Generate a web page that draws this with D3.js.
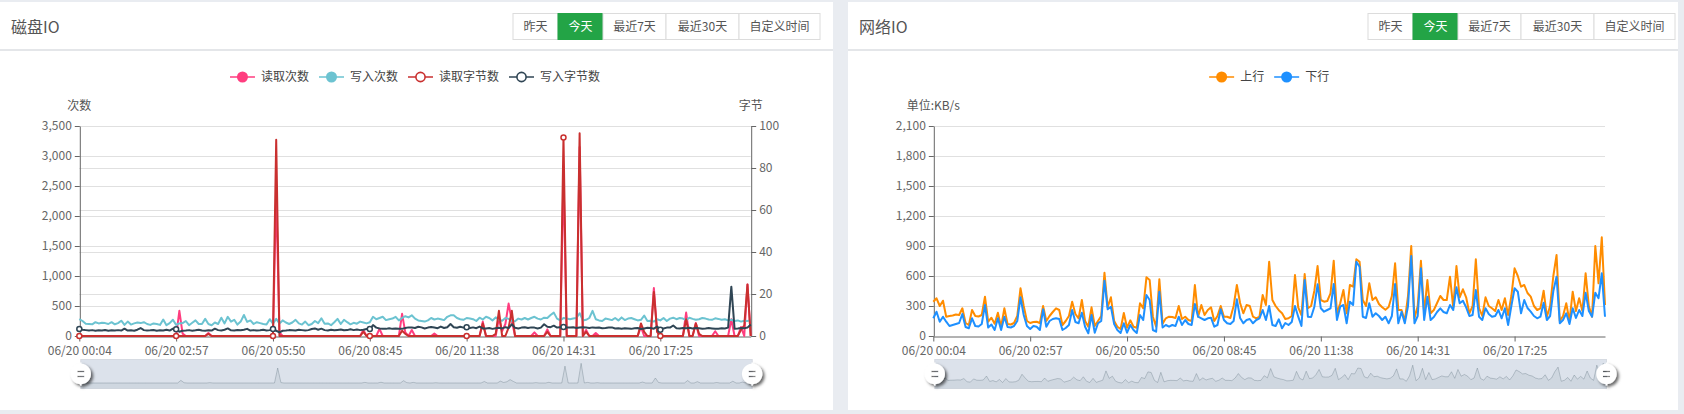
<!DOCTYPE html>
<html><head><meta charset="utf-8">
<script src="https://cdn.jsdelivr.net/npm/d3@7/dist/d3.min.js"></script>
<style>
html,body{margin:0;padding:0;background:#e9ecf1;overflow:hidden;}
svg{display:block;}
text{font-family:"Microsoft YaHei","Noto Sans CJK SC","Noto Sans",sans-serif;}
</style></head><body>
<svg id="c" width="1684" height="414"></svg>
<script>
// ---------- DATA ----------
const tickLabels = ['06/20 00:04','06/20 02:57','06/20 05:50','06/20 08:45','06/20 11:38','06/20 14:31','06/20 17:25'];
const tickStep = 30;
const buttonLabels = ['昨天','今天','最近7天','最近30天','自定义时间'];
const activeButton = 1;
const diskTitle = '磁盘IO';
const netTitle = '网络IO';
const diskSeriesNames = ['读取次数','写入次数','读取字节数','写入字节数'];
const netSeriesNames = ['上行','下行'];
const diskLeftTicks = [0,500,1000,1500,2000,2500,3000,3500];
const diskRightTicks = [0,20,40,60,80,100];
const netTicks = [0,300,600,900,1200,1500,1800,2100];

// 读取次数 (left axis)
const readCount = [
30,0,0,0,0,0,0,0,0,0,
0,0,0,0,0,0,0,0,0,0,
0,0,0,0,0,0,0,0,0,0,
0,420,40,0,0,0,0,0,0,0,
50,0,0,0,0,0,0,0,0,0,
0,0,0,0,0,0,0,0,0,0,
0,2400,60,0,0,0,0,0,0,0,
0,0,0,0,0,0,0,0,0,0,
0,0,0,0,0,0,0,0,100,0,
0,0,0,120,0,0,0,0,0,0,
370,60,0,100,0,0,0,0,0,0,
40,0,0,0,0,0,0,0,0,0,
0,0,0,0,0,240,0,0,0,0,
300,80,200,540,250,0,0,0,0,0,
0,60,0,0,0,110,0,0,0,0,
2700,0,0,0,0,3150,0,100,0,0,
50,0,0,0,0,0,0,0,0,0,
0,0,0,0,150,0,0,0,800,80,
0,0,0,0,0,0,0,0,390,0,
0,215,0,0,0,0,0,80,0,0,
0,0,280,0,0,150,0,860,0];
// 写入次数 (left axis)
const writeCount = [
280,250,205,200,195,230,210,220,215,200,
230,195,215,255,185,240,190,210,225,215,
230,200,185,210,200,185,275,180,215,270,
185,210,215,250,180,220,260,200,200,285,
200,180,225,200,305,210,320,240,270,190,
240,350,235,260,200,230,215,200,190,280,
205,285,210,260,225,200,225,270,210,190,
240,180,200,250,215,295,205,210,180,230,
285,200,270,230,195,220,205,240,225,210,
230,320,280,300,320,265,280,290,320,260,
300,330,310,345,290,260,250,240,260,300,
275,290,280,265,320,345,345,300,280,270,
300,290,280,250,305,275,320,300,260,310,
270,255,300,285,250,245,290,275,300,275,
300,320,290,275,305,300,350,390,290,260,
300,290,280,290,300,380,260,270,300,420,
280,260,250,290,280,265,300,260,310,265,
290,300,280,260,270,340,250,255,240,280,
260,300,250,290,305,280,300,290,265,305,
285,270,280,300,290,275,270,295,285,270,
280,260,270,250,260,240,255,250,265];
// 读取字节数 (right axis)
const readBytes = [
0,0,0,0,0,0,0,0,0,0,
0,0,0,0,0,0,0,0,0,0,
0,0,0,0,0,0,0,0,0,0,
0,0,0,0,0,0,0,0,0,0,
1,0,0,0,0,0,0,0,0,0,
0,0,0,0,0,0,0,0,0,0,
0,93.5,0,0,0,0,0,0,0,0,
0,0,0,0,0,0,0,0,0,0,
0,0,0,0,0,0,0,0,2,0,
0,0,0,0,0,0,0,0,0,0,
2.5,1,0,0,0,0,0,0,0,0,
0,0,0,0,0,0,0,0,0,0,
0,0,0,0,0,6,0,0,0,1,
12,0,0,4,12,0,0,0,0,0,
0,0,0,0,0,2,0,0,0,0,
94.5,0,0,0,0,96.5,0,2,0,0,
0,0,0,0,0,0,0,0,0,0,
0,0,0,0,6,2,0,0,21,2,
0,0,0,0,0,0,0,0,8,0,
0,6,1,0,0,0,0,0,0,0,
0,0,0,0,0,3,5,24.5,0];
// 写入字节数 (right axis)
const writeBytes = [
3.3,3.0,2.8,2.6,2.8,2.5,2.7,2.6,2.9,2.5,
2.7,2.6,2.8,2.6,3.5,2.6,2.7,2.5,3.0,3.8,
2.8,2.6,2.7,2.9,2.5,2.7,2.6,3.0,2.6,3.5,
3.2,2.0,2.5,2.6,2.8,2.5,2.7,3.0,2.6,2.5,
2.7,2.6,3.5,2.8,2.6,3.0,3.6,2.7,2.6,2.9,
2.7,3.0,3.4,2.6,2.8,2.6,2.7,3.0,2.6,2.8,
3.3,2.5,1.7,2.5,2.6,2.8,2.7,2.6,3.0,2.8,
2.6,2.8,3.3,3.6,3.0,3.5,2.8,2.6,3.0,2.7,
2.9,3.1,2.7,2.8,3.2,2.8,3.1,2.8,3.0,3.3,
3.3,5.2,4.0,3.6,3.5,3.4,3.7,3.4,3.6,3.5,
3.4,3.8,4.1,4.0,3.8,4.4,4.1,3.6,4.0,4.3,
4.0,3.7,4.5,3.8,4.2,5.7,4.2,3.9,4.4,4.0,
4.2,3.8,4.1,3.7,4.5,3.6,3.6,3.8,3.4,3.7,
3.9,3.6,4.2,3.8,5.6,3.9,3.6,4.0,4.2,3.8,
4.1,4.0,3.6,4.0,5.6,4.4,4.2,4.9,4.0,4.2,
4.3,4.0,4.1,4.2,3.8,4.0,4.2,4.0,3.8,4.1,
3.9,4.0,3.7,3.8,4.0,4.1,3.6,3.7,3.5,3.7,
3.6,3.4,3.7,3.8,3.3,3.6,3.9,3.8,3.5,4.5,
3.0,3.6,4.0,4.0,5.0,3.7,3.6,3.8,3.7,3.9,
3.6,3.8,3.7,3.5,3.6,3.8,3.6,3.4,3.5,3.7,
3.6,4.0,23.5,3.5,3.6,3.8,3.7,4.0,5.5];
// 上行 KB/s
const upload = [
343,377,300,353,193,200,205,215,210,277,
130,110,260,200,195,210,393,143,183,123,
233,93,277,120,115,130,200,477,300,150,
130,140,143,130,300,150,200,240,277,260,
110,150,200,343,220,177,360,150,93,287,
100,150,200,633,287,387,150,93,70,230,
83,157,93,83,327,277,587,560,193,93,
567,123,177,193,190,180,300,170,193,160,
150,510,193,310,210,260,287,150,200,300,
193,193,180,300,510,330,227,310,300,193,
177,193,410,310,743,360,300,258,227,170,
177,200,610,287,210,620,277,300,453,700,
360,343,350,427,753,227,327,460,227,510,
493,767,743,360,300,527,360,387,320,287,
262,290,400,727,260,260,150,400,900,177,
300,753,227,560,227,260,330,400,360,360,
593,287,700,387,467,387,227,300,767,280,
200,387,300,277,250,360,260,377,210,400,
677,600,493,510,430,393,300,260,277,453,
193,300,600,810,150,200,327,150,443,250,
377,250,627,300,193,900,527,987,310];
// 下行 KB/s
const download = [
177,243,143,193,143,100,110,120,130,220,
90,77,177,100,95,120,310,85,115,60,
177,60,193,90,85,100,150,387,210,100,
70,100,93,60,267,93,150,170,177,170,
60,80,110,260,140,127,233,93,27,210,
33,127,150,553,267,293,120,60,30,127,
33,110,60,30,210,160,410,360,60,43,
443,85,110,93,110,100,193,110,160,120,
110,320,193,177,160,177,183,93,110,267,
160,127,120,150,367,180,127,160,170,127,
160,177,260,160,300,110,100,167,77,130,
110,140,300,193,100,560,193,190,293,517,
277,243,260,277,520,160,293,310,127,343,
310,743,693,193,180,327,193,227,200,160,
193,127,200,520,127,243,127,300,800,127,
200,677,160,393,160,190,240,277,240,227,
310,260,487,327,353,287,200,210,460,193,
160,277,220,193,200,260,177,277,110,300,
477,443,227,360,280,243,200,177,193,333,
160,200,450,593,127,160,227,120,277,180,
260,200,433,250,193,433,378,627,193];

// ---------- DRAW ----------
const W = 1684, H = 414;
const svg = d3.select('#c');
const defs = svg.append('defs');
const f = defs.append('filter').attr('id','hs').attr('x','-50%').attr('y','-50%').attr('width','200%').attr('height','200%');
f.append('feDropShadow').attr('dx',2).attr('dy',2).attr('stdDeviation',1.5).attr('flood-color','#000').attr('flood-opacity',0.6);

svg.append('rect').attr('width',W).attr('height',H).attr('fill','#e9ecf1');

const btnWidths = [45,45,63,73,81];
const handlePath = 'M10.7,11.9v-1.3H9.3v1.3c-4.9,0.3-8.8,4.4-8.8,9.4c0,5,3.9,9.1,8.8,9.4v1.3h1.3v-1.3c4.9-0.3,8.8-4.4,8.8-9.4C19.5,16.3,15.6,12.2,10.7,11.9z M13.3,24.4H6.7V23h6.6V24.4z M13.3,19.6H6.7v-1.4h6.6V19.6z';

function panel(px, pw, title, btnX){
  svg.append('rect').attr('x',px).attr('y',2).attr('width',pw).attr('height',408).attr('fill','#fff');
  svg.append('line').attr('x1',px).attr('x2',px+pw).attr('y1',50).attr('y2',50).attr('stroke','#e4e6e9').attr('stroke-width',2);
  svg.append('text').attr('x',px+11).attr('y',27).attr('dy','0.35em').attr('font-size',16).attr('fill','#555').text(title);
  let x = btnX;
  buttonLabels.forEach((b,i)=>{
    const w = btnWidths[i];
    const act = i===activeButton;
    svg.append('rect').attr('x',x+0.5).attr('y',13.5).attr('width',w).attr('height',26)
      .attr('fill',act?'#23a446':'#fff').attr('stroke',act?'#23a446':'#dcdcdc');
    svg.append('text').attr('x',x+w/2+0.5).attr('y',26.5).attr('dy','0.35em').attr('text-anchor','middle')
      .attr('font-size',12).attr('fill',act?'#fff':'#555').text(b);
    x += w;
  });
}
panel(0, 833, diskTitle, 512.5);
panel(848, 830, netTitle, 1367.5);

function legend(cx, items){
  const g = svg.append('g');
  let x = 0;
  const parts = [];
  items.forEach(it=>{
    const t = g.append('text').attr('y',77).attr('dy','0.35em').attr('font-size',12).attr('fill','#444').text(it.name);
    const tw = t.node().getComputedTextLength();
    parts.push({it,t,x,tw});
    x += 25 + 6 + tw + 10;
  });
  const total = x - 10;
  const x0 = cx - total/2;
  parts.forEach(p=>{
    const ix = x0 + p.x;
    g.append('line').attr('x1',ix).attr('x2',ix+25).attr('y1',77).attr('y2',77)
      .attr('stroke',p.it.color).attr('stroke-width',2).attr('opacity',0.75);
    if(p.it.hollow){
      g.append('circle').attr('cx',ix+12.5).attr('cy',77).attr('r',4.6).attr('fill','#fff').attr('stroke',p.it.color).attr('stroke-width',1.6);
    } else {
      g.append('circle').attr('cx',ix+12.5).attr('cy',77).attr('r',5.5).attr('fill',p.it.color);
    }
    p.t.attr('x',ix+31);
  });
}

function styleAxis(g){
  g.selectAll('.domain').attr('stroke','#666');
  g.selectAll('.tick line').attr('stroke','#666');
  g.selectAll('.tick text').attr('fill','#666').attr('font-size',12)
    .attr('font-family','"Microsoft YaHei","Noto Sans CJK SC","Noto Sans",sans-serif');
}

function chart(cfg){
  const L = cfg.L, R = cfg.R, T = 126, B = 336;
  const n = cfg.series[0].data.length;
  const x = d3.scaleLinear().domain([0, n-1]).range([L, R]);
  const tickIdx = tickLabels.map((d,i)=>i*tickStep);

  // grid
  const gg = svg.append('g');
  cfg.axes.forEach(a=>{
    a.ticks.filter(v=>v>0).forEach(v=>{
      gg.append('line').attr('x1',L).attr('x2',R).attr('y1',a.scale(v)+0.5).attr('y2',a.scale(v)+0.5)
        .attr('stroke','#e0e0e0');
    });
  });

  // axes
  cfg.axes.forEach(a=>{
    const ax = (a.side==='left'?d3.axisLeft(a.scale):d3.axisRight(a.scale))
      .tickValues(a.ticks).tickFormat(d3.format(',')).tickSize(5).tickSizeOuter(0).tickPadding(3);
    const g = svg.append('g').attr('transform',`translate(${(a.side==='left'?L:R)+0.5},0)`).call(ax);
    styleAxis(g);
    svg.append('text').attr('x',a.side==='left'?L:R).attr('y',106).attr('dy','0.35em').attr('text-anchor','middle')
      .attr('font-size',12).attr('fill','#555').text(a.name);
  });
  const xa = d3.axisBottom(x).tickValues(tickIdx).tickFormat((d,i)=>tickLabels[i]).tickSize(5).tickSizeOuter(0).tickPadding(4.5);
  const gx = svg.append('g').attr('transform',`translate(0,${B+0.5})`).call(xa);
  styleAxis(gx);

  // series
  cfg.series.forEach(s=>{
    const y = s.scale;
    const line = d3.line().x((d,i)=>x(i)).y(d=>y(d));
    svg.append('path').datum(s.data).attr('d',line).attr('fill','none')
      .attr('stroke',s.color).attr('stroke-width',2).attr('stroke-linejoin','round');
    if(s.hollow){
      tickIdx.forEach(i=>{
        svg.append('circle').attr('cx',x(i)).attr('cy',y(s.data[i]))
          .attr('r',2.5).attr('fill','#fff').attr('stroke',s.color).attr('stroke-width',1.5);
      });
    }
  });

  legend((L+R)/2, cfg.series.map(s=>({name:s.name,color:s.color,hollow:s.hollow})));

  // data zoom slider
  const sx = L + 1.5, sw = R - L, sy = 359.5, sh = 29;
  svg.append('rect').attr('x',sx).attr('y',sy).attr('width',sw).attr('height',sh)
    .attr('fill','rgba(167,183,204,0.4)').attr('stroke','#d6dbe2');
  const shadow = cfg.shadow;
  const shx = d3.scaleLinear().domain([0,n-1]).range([sx, sx+sw]);
  const shy = d3.scaleLinear().domain(d3.extent(shadow)).range([383, 363.3]);
  const area = d3.area().x((d,i)=>shx(i)).y0(sy+sh).y1(d=>shy(d));
  svg.append('path').datum(shadow).attr('d',area).attr('fill','rgba(47,69,84,0.07)');
  svg.append('path').datum(shadow).attr('d',d3.line().x((d,i)=>shx(i)).y(d=>shy(d)))
    .attr('fill','none').attr('stroke','rgba(47,69,84,0.3)').attr('stroke-width',0.8);
  [sx, sx+sw].forEach(hx=>{
    const k = 1.08;
    svg.append('path').attr('d',handlePath).attr('fill','#fff').attr('fill-rule','evenodd')
      .attr('filter','url(#hs)')
      .attr('transform',`translate(${hx},${sy+sh/2}) scale(${k}) translate(-10,-21.3)`);
  });
}

const yDiskL = d3.scaleLinear().domain([0,3500]).range([336,126]);
const yDiskR = d3.scaleLinear().domain([0,100]).range([336,126]);
chart({
  L: 79.3, R: 750.7,
  axes: [
    {side:'left', scale:yDiskL, ticks:diskLeftTicks, name:'次数'},
    {side:'right', scale:yDiskR, ticks:diskRightTicks, name:'字节'}
  ],
  series: [
    {name:diskSeriesNames[0], data:readCount, scale:yDiskL, color:'#ff3d7f', hollow:false},
    {name:diskSeriesNames[1], data:writeCount, scale:yDiskL, color:'#6cc3d1', hollow:false},
    {name:diskSeriesNames[2], data:readBytes, scale:yDiskR, color:'#c9302f', hollow:true},
    {name:diskSeriesNames[3], data:writeBytes, scale:yDiskR, color:'#2f4554', hollow:true}
  ],
  shadow: readCount
});

const yNet = d3.scaleLinear().domain([0,2100]).range([336,126]);
chart({
  L: 933.3, R: 1605,
  axes: [
    {side:'left', scale:yNet, ticks:netTicks, name:'单位:KB/s'}
  ],
  series: [
    {name:netSeriesNames[0], data:upload, scale:yNet, color:'#ff8c00', hollow:false},
    {name:netSeriesNames[1], data:download, scale:yNet, color:'#1e90ff', hollow:false}
  ],
  shadow: upload
});
</script>
</body></html>
